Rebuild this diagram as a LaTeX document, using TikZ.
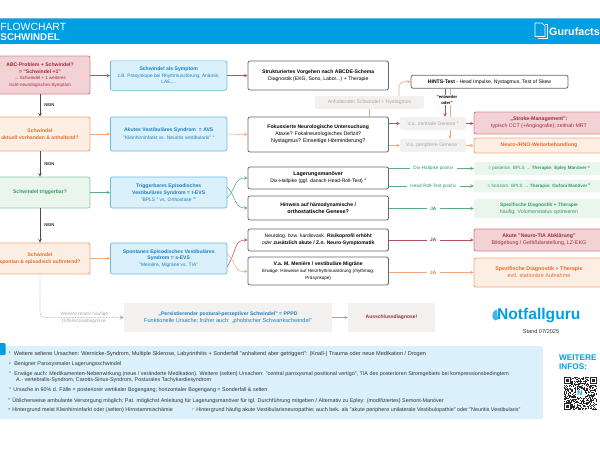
\documentclass[tikz,border=0pt]{standalone}
\usepackage{fontspec}
\setmainfont{Liberation Sans}
\usepackage{xcolor}
\usetikzlibrary{shapes,arrows,positioning}

\definecolor{hdblue}{HTML}{009FE3}
\definecolor{redfill}{HTML}{F2D2D5}
\definecolor{redline}{HTML}{D08791}
\definecolor{redtext}{HTML}{A02B3A}
\definecolor{redarrow}{HTML}{B0545F}
\definecolor{orangefill}{HTML}{FDEEE4}
\definecolor{orangeline}{HTML}{F2A77C}
\definecolor{orangetext}{HTML}{E56B2C}
\definecolor{greenfill}{HTML}{EAF5EE}
\definecolor{greenline}{HTML}{8CC9A5}
\definecolor{greentext}{HTML}{2E9B63}
\definecolor{bluefill}{HTML}{DAF1FB}
\definecolor{blueline}{HTML}{6DB7E0}
\definecolor{bluetext}{HTML}{1C7FC0}
\definecolor{greyfill}{HTML}{F2F1F0}
\definecolor{greytext}{HTML}{A8A8A8}
\definecolor{inktext}{HTML}{333333}

\newcommand{\fsz}[2]{{\fontsize{#1}{6}\selectfont #2}}
\newcommand{\sups}[1]{\raisebox{1.8pt}{\fontsize{3}{3}\selectfont #1}}

\tikzset{
  basebox/.style={rounded corners=2pt,align=center,inner sep=0pt,font=\fontsize{5.1}{6.8}\selectfont},
  redbox/.style={basebox,fill=redfill,draw=redline,line width=0.9pt,text=redtext},
  orangebox/.style={basebox,fill=orangefill,draw=orangeline,line width=0.9pt,text=orangetext},
  greenbox/.style={basebox,fill=greenfill,draw=greenline,line width=0.7pt,text=greentext},
  softgreen/.style={basebox,fill=greenfill,text=greentext},
  bluebox/.style={basebox,fill=bluefill,draw=blueline,line width=0.7pt,text=bluetext},
  blackbox/.style={basebox,fill=white,draw=black!60,line width=0.8pt,text=black},
  greybox/.style={basebox,fill=greyfill,text=greytext},
  link/.style={->,>=stealth,line width=0.55pt},
  neinlabel/.style={font=\fontsize{4.2}{5}\selectfont\bfseries,text=black!80,inner sep=1pt},
  pathlabel/.style={fill=white,inner ysep=1.5pt,inner xsep=3.5pt,font=\fontsize{4.7}{5.5}\selectfont},
  footnote/.style={anchor=west,inner sep=0pt,text=inktext,align=left,font=\fontsize{5.4}{5.6}\selectfont}
}

\begin{document}
\begin{tikzpicture}[x=1pt,y=-1pt]
\useasboundingbox (0,0) rectangle (600,450);

% Header
\fill[hdblue] (0,18) rectangle (600,44);
\draw[blueline,line width=0.5pt] (0,18.2) -- (600,18.2);
\node[anchor=west,inner sep=0pt,text=white,font=\fontsize{10.4}{10}\selectfont] (titleA) at (0.3,27) {FLOWCHART};
\node[anchor=west,inner sep=0pt,text=white,font=\fontsize{9.8}{10}\selectfont\bfseries] (titleB) at (0.3,37) {SCHWINDEL};
\draw[white,line width=0.7pt] (535,23) -- (542,23) -- (545,26) -- (545,36.5) -- (535,36.5) -- cycle;
\draw[white,line width=0.7pt] (545,24) -- (547,24) -- (547,38.3) -- (538,38.3);
\node[anchor=west,inner sep=0pt,text=white,font=\fontsize{10.7}{11}\selectfont\bfseries] (gurufacts) at (549,31.5) {Gurufacts};

% Left column
\node[redbox,minimum width=100pt,minimum height=38pt] (abc) at (40,75) {\textbf{ABC-Problem + Schwindel?}\\\textbf{= "Schwindel +1"}\\[-0.6pt]\fsz{4.5}{→ Schwindel + 1 weiteres}\\\fsz{4.5}{nicht-neurologisches Symptom}};
\node[orangebox,minimum width=100pt,minimum height=34pt] (acute) at (40,134) {\textbf{Schwindel}\\\textbf{aktuell vorhanden \& anhaltend?}};
\node[greenbox,minimum width=100pt,minimum height=31pt] (trigger) at (40,192.5) {\textbf{Schwindel triggerbar?}};
\node[orangebox,minimum width=100pt,minimum height=31pt,font=\fontsize{5}{6.8}\selectfont] (spont) at (40,258.5) {\textbf{Schwindel}\\\textbf{spontan \& episodisch auftretend?}};

% Syndrome column
\node[bluebox,minimum width=116.5pt,minimum height=29.5pt] (symptom) at (168.7,75.6) {\textbf{Schwindel als Symptom}\\\fsz{4.8}{z.B. Präsynkope bei Rhythmusstörung, Anämie,}\\\fsz{4.8}{LAE,...}};
\node[bluebox,minimum width=116.5pt,minimum height=34pt] (avs) at (168.7,134) {\textbf{Akutes Vestibuläres Syndrom ~= AVS}\\[1pt]\fsz{4.9}{"Kleinhirninfarkt vs. Neuritis vestibularis" \sups{1}}};
\node[bluebox,minimum width=116.5pt,minimum height=31pt] (tevs) at (168.7,192.5) {\textbf{Triggerbares Episodisches}\\\textbf{Vestibuläres Syndrom = t-EVS}\\\fsz{4.9}{"BPLS \sups{2} vs. Orthostase \sups{3}"}};
\node[bluebox,minimum width=116.5pt,minimum height=31pt] (sevs) at (168.7,258.5) {\textbf{Spontanes Episodisches Vestibuläres}\\\textbf{Syndrom = s-EVS}\\\fsz{4.9}{"Menière, Migräne vs. TIA"}};

% Work-up column
\node[blackbox,minimum width=140.5pt,minimum height=29pt] (abcde) at (318.2,75.5) {\textbf{Strukturiertes Vorgehen nach ABCDE-Schema}\\Diagnostik (EKG, Sono, Labor...) + Therapie};
\node[blackbox,minimum width=140.5pt,minimum height=35pt] (focus) at (318.2,134.5) {\textbf{Fokussierte Neurologische Untersuchung}\\\fsz{5.2}{Ataxie? Fokalneurologisches Defizit?}\\\fsz{5.4}{Nystagmus? Einseitige Hörminderung?}};
\node[blackbox,minimum width=140.5pt,minimum height=22pt] (lager) at (318.2,178) {\fsz{5.35}{\textbf{Lagerungsmanöver}}\\\fsz{5}{Dix-Hallpike (ggf. danach Head-Roll-Test) \sups{4}}};
\node[blackbox,minimum width=140.5pt,minimum height=24pt] (ortho) at (318.2,208) {\textbf{Hinweis auf hämodynamische /}\hspace{3pt}\\\fsz{5.4}{\textbf{orthostatische Genese?}}};
\node[blackbox,minimum width=140.5pt,minimum height=22pt,font=\fontsize{5}{6.8}\selectfont] (neurolog) at (318.2,240) {Neurolog. bzw. kardiovask. \textbf{Risikoprofil erhöht}\\\emph{oder} \textbf{zusätzlich akute / Z.n. Neuro-Symptomatik}};
\node[blackbox,minimum width=140.5pt,minimum height=28pt] (meniere) at (318.2,271) {\textbf{V.a. M. Menière / vestibuläre Migräne}\\\fsz{4.55}{Erwäge: Hinweise auf Herzrhythmusstörung (rhythmog.}\\\fsz{4.55}{Präsynkope)}};

% HINTS branch
\node[blackbox,minimum width=157pt,minimum height=13pt] (hints) at (489.5,81.7) {\textbf{HINTS-Test} - Head Impulse, Nystagmus, Test of Skew};
\node[greybox,minimum width=109pt,minimum height=13pt] (persist) at (369.5,102.3) {Anhaltender Schwindel + Nystagmus};
\node[greybox,minimum width=66pt,minimum height=13pt] (central) at (433,123.5) {V.a. zentrale Genese \sups{5}};
\node[greybox,minimum width=66pt,minimum height=13pt] (periph) at (433,145.5) {V.a. periphere Genese \sups{7}};
\node[redbox,minimum width=130pt,minimum height=22pt,font=\fontsize{5.25}{7}\selectfont] (stroke) at (539,123) {\textbf{„Stroke-Management":}\\typisch CCT (+Angiografie); zeitnah MRT};
\node[orangebox,minimum width=130pt,minimum height=15pt,font=\fontsize{5.2}{7}\selectfont] (hno) at (539,145.5) {\textbf{Neuro-/HNO-Weiterbehandlung}};
\coordinate (hintsA) at (445,0);
\coordinate (hintsB) at (450,0);

% Result column
\node[softgreen,minimum width=130pt,minimum height=13pt,font=\fontsize{4.6}{6}\selectfont] (epley) at (539,168.5) {= posterior. BPLS \textbf{→ Therapie: Epley Manöver \sups{6}}};
\node[softgreen,minimum width=130pt,minimum height=12.5pt,font=\fontsize{4.6}{6}\selectfont] (gufoni) at (539,186) {= horizont. BPLS \textbf{→ Therapie: Gufoni Manöver \sups{6}}};
\node[softgreen,minimum width=130pt,minimum height=19pt] (specgreen) at (539,208.5) {\fsz{4.8}{\textbf{Spezifische Diagnostik + Therapie}}\\\fsz{5.25}{häufig: Volumenstatus optimieren}};
\node[redbox,minimum width=130pt,minimum height=22pt,font=\fontsize{5.2}{7}\selectfont] (tia) at (539,240) {\textbf{Akute "Neuro-TIA Abklärung"}\\\fsz{5.35}{Bildgebung / Gefäßdarstellung, LZ-EKG}};
\node[orangebox,minimum width=130pt,minimum height=29pt,font=\fontsize{5.5}{7}\selectfont] (specorange) at (539,272.5) {\fsz{5.4}{\textbf{Spezifische Diagnostik + Therapie}}\\evtl. stationäre Aufnahme};

% PPPD row
\node[greybox,text=bluetext,minimum width=208pt,minimum height=29pt,font=\fontsize{5.1}{7}\selectfont] (pppd) at (228,317.5) {\textbf{„Persistierender postural-perzeptiver Schwindel" = PPPD}\\\fsz{5.6}{Funktionelle Ursache; früher auch: „phobischer Schwankschwindel"}};
\node[greybox,text=redtext,minimum width=87pt,minimum height=29pt,font=\fontsize{5}{7}\selectfont] (exclude) at (391.5,317.5) {\textbf{Ausschlussdiagnose!}};

% Main column links
\draw[link,black!70] (abc) -- (acute) node[midway,right=3pt,neinlabel] (neinA) {NEIN};
\draw[link,black!70] (acute) -- (trigger) node[midway,right=3pt,neinlabel] (neinB) {NEIN};
\draw[link,black!70] (trigger) -- (spont) node[midway,right=3pt,neinlabel] (neinC) {NEIN};
\draw[link,redarrow] (abc.east|-symptom.west) -- (symptom.west);
\draw[link,redarrow] (symptom.east) -- (symptom.east-|abcde.west);
\draw[link,orangeline] (acute) -- (avs);
\draw[link,orangeline] (avs) -- (focus);
\draw[link,greentext!80] (trigger) -- (tevs);
\draw[link,orangeline] (spont) -- (sevs);

% Curved links
\draw[link,greentext!80] ([yshift=-5.5pt]tevs.east) .. controls (237,187) and (234,178) .. (lager.west);
\draw[link,greentext!80] ([yshift=5.5pt]tevs.east) .. controls (237,198) and (234,208) .. (ortho.west);
\draw[link,redarrow] ([yshift=-8pt]sevs.east) .. controls (237,250.5) and (234,240) .. (neurolog.west);
\draw[link,orangeline] ([yshift=4.8pt]sevs.east) .. controls (237,263.3) and (234,273) .. (meniere.west);

% HINTS links
\draw[orangeline,line width=0.6pt] (focus.north-|persist.south) -- (persist.south);
\draw[link,orangeline,rounded corners=5pt] ([xshift=29.5pt]persist.north) |- (hints.west);
\draw[link,redarrow] (focus.east|-central.west) -- (central.west);
\draw[link,orangeline] (focus.east|-periph.west) -- (periph.west);
\draw[link,redarrow] (central.east) -- (central.east-|stroke.west);
\draw[link,orangeline] (periph.east) -- (periph.east-|hno.west);
\draw[link,redarrow] (hintsA|-hints.south) -- (hintsA|-central.north);
\draw[orangeline,line width=0.6pt] (hintsB|-hints.south) -- (hintsB|-central.north);
\draw[link,orangeline] (hintsB|-central.south) -- (hintsB|-periph.north);
\node[fill=white,inner sep=0.4pt,align=center,font=\fontsize{4.2}{5.8}\selectfont\bfseries] (either) at (447,100) {"entweder\\oder"};

% Right column links
\draw[link,greentext!80] (lager.east|-epley.west) -- (epley.west) node[midway,pathlabel,text=greentext,xshift=2pt] (dix) {Dix-Hallpike positiv};
\draw[link,greentext!80] (lager.east|-gufoni.west) -- (gufoni.west) node[midway,pathlabel,text=greentext,xshift=2pt] (roll) {Head-Roll-Test positiv};
\draw[link,greentext!80] (ortho.east|-specgreen.west) -- (specgreen.west) node[midway,pathlabel,text=greentext,xshift=2pt] (jaA) {\textbf{JA}};
\draw[link,redarrow] (neurolog.east) -- (tia.west) node[midway,pathlabel,text=redtext,xshift=2pt] (jaB) {\textbf{JA}};
\draw[link,orangeline] (meniere.east|-specorange.west) -- (specorange.west) node[midway,pathlabel,text=orangetext,xshift=2pt] (jaC) {\textbf{JA}};

% Differential link
\draw[link,greytext,densely dotted,line width=0.8pt,rounded corners=5pt] (spont.south) |- (pppd.west) node[pos=0.75,xshift=2.5pt,align=center,text=greytext,inner sep=0pt,font=\fontsize{4.8}{7}\selectfont] (other) {Weitere relativ häufige\\Differenzialdiagnose:};
\draw[link,greytext] (pppd) -- (exclude);

% Logo
\fill[hdblue!75] (497,309.5) .. controls (492.5,310) and (491.5,316) .. (493,318.5) .. controls (494.5,321) and (497.5,321) .. (498,319) -- cycle;
\node[anchor=west,inner sep=0pt,text=hdblue,font=\fontsize{15.6}{18}\selectfont\bfseries] (logo) at (497,315.5) {Notfallguru};
\node[inner sep=0pt,text=inktext,font=\fontsize{5.6}{5}\selectfont] (stand) at (541,331) {Stand 07/2025};

% Footnotes
\fill[bluefill,rounded corners=2pt] (-4,346) rectangle (543,419);
\fill[hdblue,rounded corners=1pt] (-4,343) rectangle (5.5,355);
\node[footnote,font=\fontsize{5.57}{5.6}\selectfont] (noteA) at (9,354) {\sups{1}\hspace{3pt}Weitere seltene Ursachen: Wernicke-Syndrom, Multiple Sklerose, Labyrinthitis + Sonderfall "anhaltend aber getriggert": (Knall-) Trauma oder neue Medikation / Drogen};
\node[footnote] (noteB) at (9,364.5) {\sups{2}\hspace{3.5pt}Benigner Paroxysmaler Lagerungsschwindel};
\node[footnote] (noteC) at (9,377) {\sups{3}\hspace{3.5pt}Erwäge auch: Medikamenten-Nebenwirkung (neue / veränderte Medikation). Weitere (selten) Ursachen: "central paroxysmal positional vertigo", TIA des posterioren Stromgebiets bei kompressionsbedingtem\\\hspace*{7pt}A.- vertebralis-Syndrom, Carotis-Sinus-Syndrom, Posturales Tachykardiesyndrom};
\node[footnote] (noteD) at (9,390) {\sups{4}\hspace{2.5pt}Ursache in 90\% d. Fälle = posteriorer vertikaler Bogengang; horizontaler Bogengang = Sonderfall \& selten};
\node[footnote] (noteE) at (8.5,400.5) {\sups{5}\hspace{2pt}Üblicherweise ambulante Versorgung möglich; Pat. möglichst Anleitung für Lagerungsmanöver für tgl. Durchführung mitgeben / Alternativ zu Epley: (modifiziertes) Semont-Manöver};
\node[footnote] (noteF) at (8.5,410.5) {\sups{6}\hspace{2pt}Hintergrund meist Kleinhirninfarkt oder (selten) Hirnstammischämie};
\node[footnote] (noteG) at (192,410.5) {\sups{7}\hspace{2.5pt}Hintergrund häufig akute Vestibularisneuropathie; auch bek. als "akute periphere unilaterale Vestibulopathie" oder "Neuritis Vestibularis"};

% QR block
\node[anchor=west,inner sep=0pt,align=left,text=hdblue,font=\fontsize{8.2}{9}\selectfont\bfseries] (infos) at (559,362.5) {WEITERE\\INFOS:};
\pgfmathsetseed{41}
\foreach \i in {0,...,32}
  \foreach \j in {0,...,32} {
    \pgfmathparse{rnd<0.5 ? 1 : 0}
    \ifdim\pgfmathresult pt>0.5pt
      \fill[black!85] (563.5+\i,377+\j) rectangle ++(1,1);
    \fi
  }
\foreach \cx/\cy in {563.5/377,589.5/377,563.5/403} {
  \fill[white] (\cx-0.5,\cy-0.5) rectangle ++(8,8);
  \draw[black!85,line width=1pt] (\cx+0.5,\cy+0.5) rectangle ++(6,6);
  \fill[black!85] (\cx+2,\cy+2) rectangle ++(3,3);
}
\node[fill=white,inner sep=1pt,text=hdblue,font=\fontsize{7}{7}\selectfont\bfseries] (qrN) at (580,393.5) {N};
\end{tikzpicture}
\end{document}
